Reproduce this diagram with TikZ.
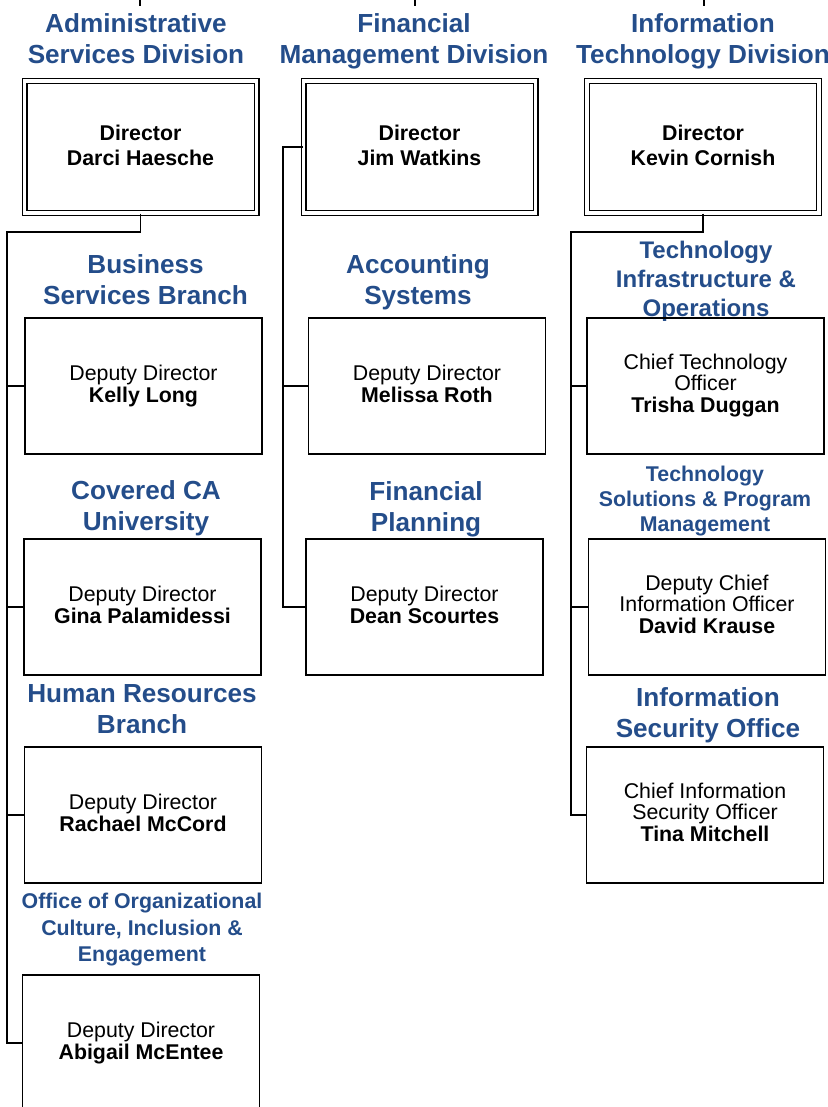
\documentclass[tikz,border=0pt]{standalone}
\usepackage{fontspec}
\setmainfont{Liberation Sans}
\usepackage{tikz}
\usepackage{color}
\definecolor{divblue}{RGB}{36,77,138}

\begin{document}
\begin{tikzpicture}[x=0.75pt,y=-0.75pt,
  unit/.style={draw,line width=1.1pt,minimum width=177.75pt,minimum height=102pt,inner sep=0pt,align=center,font=\fontsize{16}{16.3}\selectfont,text height=29.9pt,text depth=4.9pt},
  director/.style={draw,double,line width=1pt,double distance=2.5pt,minimum width=174pt,minimum height=99pt,inner sep=0pt,align=center,font=\bfseries\fontsize{16}{18.75}\selectfont,text height=32.5pt,text depth=5.5pt},
  head/.style={text=divblue,align=center,inner sep=0pt,font=\bfseries\fontsize{19.6}{23.25}\selectfont,execute at begin node=\strut,execute at end node=\strut},
  subhead/.style={head,font=\bfseries\fontsize{16}{18.75}\selectfont},
  link/.style={line width=1pt}]
\clip (0,0) rectangle (828,1107);

\node[head] (hAdmin) at (136,43.5) {Administrative\\Services Division};
\node[head] (hFin) at (414,43.5) {Financial\\Management Division};
\node[head] (hIT) at (703,43.5) {Information\\Technology Division};

\node[director] (dirAdmin) at (140.5,147) {Director\\Darci Haesche};
\node[director] (dirFin) at (419.5,147) {Director\\Jim Watkins};
\node[director] (dirIT) at (703,147) {Director\\Kevin Cornish};

% administrative services
\node[head] (hBusiness) at (145.5,284.5) {Business\\Services Branch};
\node[unit] (kelly) at (143.5,386) {Deputy Director\\\textbf{Kelly Long}};
\node[head] (hCovered) at (146,510) {Covered CA\\University};
\node[unit] (gina) at (142.5,607) {Deputy Director\\\textbf{Gina Palamidessi}};
\node[head] (hHR) at (142,713.5) {Human Resources\\Branch};
\node[unit] (rachael) at (143,815) {Deputy Director\\\textbf{Rachael McCord}};
\node[subhead,font=\bfseries\fontsize{16}{19.9}\selectfont] (hCulture) at (142,931.5) {Office of Organizational\\Culture, Inclusion \&\\Engagement};
\node[unit] (abigail) at (141,1043) {Deputy Director\\\textbf{Abigail McEntee}};

% financial management
\node[head] (hAccounting) at (418,284.5) {Accounting\\Systems};
\node[unit] (melissa) at (427,386) {Deputy Director\\\textbf{Melissa Roth}};
\node[head] (hPlanning) at (426,511) {Financial\\Planning};
\node[unit] (dean) at (424.5,607) {Deputy Director\\\textbf{Dean Scourtes}};

% information technology
\node[head,font=\bfseries\fontsize{18}{21.75}\selectfont] (hInfra) at (706,283.5) {Technology\\Infrastructure \&\\Operations};
\node[unit,text height=44.9pt] (trisha) at (705.5,386) {Chief Technology\\Officer\\\textbf{Trisha Duggan}};
\node[subhead] (hSolutions) at (705,502.5) {Technology\\Solutions \& Program\\Management};
\node[unit,text height=44.9pt] (david) at (707,607) {Deputy Chief\\Information Officer\\\textbf{David Krause}};
\node[head] (hSecurity) at (708,717) {Information\\Security Office};
\node[unit,text height=44.9pt] (tina) at (705,815) {Chief Information\\Security Officer\\\textbf{Tina Mitchell}};

\coordinate (topAdmin) at (140,0);
\coordinate (topFin) at (415,0);
\coordinate (topIT) at (704,0);
\draw[link] (topAdmin) -- ++(0,6);
\draw[link] (topFin) -- ++(0,6);
\draw[link] (topIT) -- ++(0,6);

\coordinate (busAdmin) at (7,232);
\coordinate (busFin) at (283,147);
\coordinate (busIT) at (571,232);

\draw[link] (dirAdmin.south) |- (busAdmin) -- (busAdmin |- abigail.west) -- (abigail.west);
\draw[link] (busAdmin |- kelly.west) -- (kelly.west);
\draw[link] (busAdmin |- gina.west) -- (gina.west);
\draw[link] (busAdmin |- rachael.west) -- (rachael.west);

\draw[link] (dirFin.west) -- (busFin) -- (busFin |- dean.west) -- (dean.west);
\draw[link] (busFin |- melissa.west) -- (melissa.west);

\draw[link] (dirIT.south) |- (busIT) -- (busIT |- tina.west) -- (tina.west);
\draw[link] (busIT |- trisha.west) -- (trisha.west);
\draw[link] (busIT |- david.west) -- (david.west);
\end{tikzpicture}
\end{document}
